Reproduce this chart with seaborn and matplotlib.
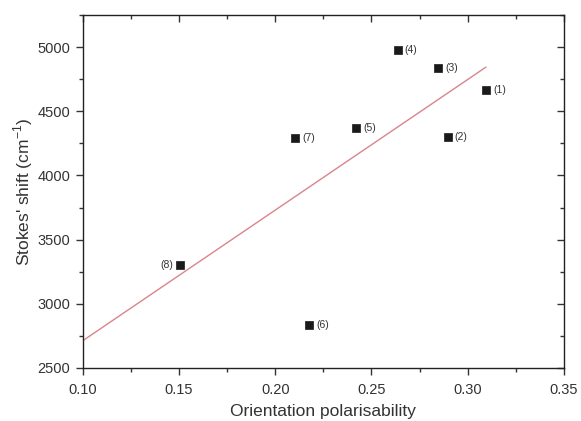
import numpy as np
import pandas as pd
import matplotlib
matplotlib.use("Agg")
import matplotlib.pyplot as plt
import seaborn as sns
from matplotlib.ticker import MultipleLocator

# Data
labels = ["(1)", "(2)", "(3)", "(4)", "(5)", "(6)", "(7)", "(8)"]
orientation_pol = [0.3095, 0.2896, 0.2847, 0.2636, 0.2420, 0.2177, 0.2103, 0.1507]
stokes_shift = [4665, 4300, 4837, 4980, 4373, 2834, 4295, 3301]
x_ticks = [0.10, 0.15, 0.20, 0.25, 0.30, 0.35]
y_ticks = [2500, 3000, 3500, 4000, 4500, 5000]

df = pd.DataFrame({"x": orientation_pol, "y": stokes_shift, "label": labels})

sns.set_style("ticks")
plt.rcParams["font.family"] = ["Liberation Sans", "DejaVu Sans"]
plt.rcParams["mathtext.fontset"] = "custom"
plt.rcParams["mathtext.rm"] = "Liberation Sans"

fig = plt.figure(figsize=(5.81, 4.21), dpi=100)
ax = fig.add_axes([0.1423, 0.1259, 0.8284, 0.8385])

# Linear fit line from x=0.10 to max x
slope, intercept = np.polyfit(df["x"], df["y"], 1)
fit_x = np.array([0.10, df["x"].max()])
fit_df = pd.DataFrame({"x": fit_x, "y": slope * fit_x + intercept})
sns.lineplot(data=fit_df, x="x", y="y", ax=ax, color="#d9848c", lw=1.0)

sns.scatterplot(data=df, x="x", y="y", ax=ax, marker="s", s=34,
                color="#1a1a1a", edgecolor="#1a1a1a", linewidth=0.5, zorder=3)

for _, r in df.iterrows():
    if r["label"] == "(8)":
        ax.annotate(r["label"], (r["x"], r["y"]), xytext=(-5, 0),
                    textcoords="offset points", ha="right", va="center",
                    fontsize=7.5, color="#333333")
    else:
        ax.annotate(r["label"], (r["x"], r["y"]), xytext=(5, 0),
                    textcoords="offset points", ha="left", va="center",
                    fontsize=7.5, color="#333333")

ax.set_xlim(0.10, 0.35)
ax.set_ylim(2500, 5250)
ax.set_xticks(x_ticks)
ax.set_yticks(y_ticks)
ax.set_xticklabels([f"{t:.2f}" for t in x_ticks])
ax.set_yticklabels([str(t) for t in y_ticks])
ax.xaxis.set_minor_locator(MultipleLocator(0.025))
ax.yaxis.set_minor_locator(MultipleLocator(250))

ax.tick_params(axis="both", which="major", direction="out", length=5, width=1,
               labelsize=10.5, colors="#333333", pad=4)
ax.tick_params(axis="both", which="minor", direction="out", length=3, width=1,
               colors="#333333")
ax.tick_params(axis="x", which="major", pad=6)
ax.tick_params(top=True, right=True, which="both")
# mirrored ticks point inward on top/right
for t in ax.xaxis.get_major_ticks() + ax.xaxis.get_minor_ticks():
    t.tick2line.set_marker(3)  # TICKDOWN
for t in ax.yaxis.get_major_ticks() + ax.yaxis.get_minor_ticks():
    t.tick2line.set_marker(0)  # TICKLEFT

for s in ax.spines.values():
    s.set_visible(True)
    s.set_color("#222222")
    s.set_linewidth(1.0)

ax.set_xlabel("Orientation polarisability", fontsize=12.5, color="#333333", labelpad=5)
ax.set_ylabel("Stokes' shift (cm$^{\\mathregular{-1}}$)", fontsize=12.5, color="#333333", labelpad=2)

fig.savefig("out.png", dpi=100, facecolor="white")
